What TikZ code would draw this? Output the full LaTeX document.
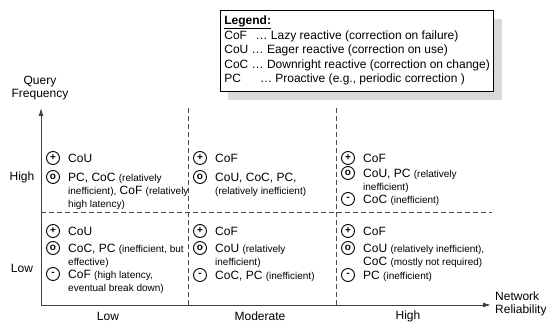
\documentclass[tikz,border=0pt]{standalone}
\usepackage{fontspec}
\setmainfont{Liberation Sans}
\usetikzlibrary{arrows.meta,shadows}
\tikzset{
  sign/.style     = {circle,draw,line width=0.9pt,inner sep=0pt,minimum size=13pt,
                     font=\fontsize{10}{10}\selectfont\bfseries},
  entry/.style    = {anchor=base west,inner sep=0pt,font=\fontsize{12}{13}\selectfont},
  lbl/.style      = {inner sep=0pt,font=\fontsize{12}{13}\selectfont},
  axisline/.style = {-{Latex[length=8pt,width=5pt]},line width=0.9pt,black!75},
  gridline/.style = {dash pattern=on 5pt off 3pt,line width=0.8pt,black!70},
  legendbox/.style= {draw,fill=white,line width=0.8pt,anchor=north west,
                     inner xsep=4pt,inner ysep=4pt,font=\fontsize{12}{14.5}\selectfont,
                     drop shadow={shadow xshift=8pt,shadow yshift=-9pt,fill=black!15,opacity=1}}
}
\newcommand{\sm}[1]{{\fontsize{10}{13}\selectfont #1}}
% #1 name, #2 position, #3 sign, #4 text
\newcommand{\rating}[4]{%
  \node[sign] (#1-s) at (#2) {#3};
  \node[entry] (#1) at ([shift={(15pt,-4.3pt)}]#1-s.center)
    {\begin{tabular}[t]{@{}l@{}}#4\end{tabular}};
}

\begin{document}
\begin{tikzpicture}[x=1pt,y=-1pt]
  \useasboundingbox (0,0) rectangle (546,323);

  % legend
  \node[legendbox] (legend) at (220,10) {\begin{tabular}{@{}l@{}}
    \underline{\textbf{Legend:}}\\
    CoF\hspace{8.6pt}… Lazy reactive (correction on failure)\\
    CoU … Eager reactive (correction on use)\\
    CoC … Downright reactive (correction on change)\\
    PC\hspace{19pt}… Proactive (e.g., periodic correction )
  \end{tabular}};

  % axes
  \coordinate (origin) at (41,305);
  \coordinate (ytip) at (41,108);
  \coordinate (xtip) at (491,305);
  \draw[axisline] (origin) -- (ytip);
  \draw[axisline] (origin) -- (xtip);
  \node[lbl,align=center] (qf) at (40,88) {Query\\Frequency};
  \node[lbl,align=left,anchor=west] (nr) at (495,304) {Network\\Reliability};

  % cell borders
  \coordinate (v1top) at (188,108);
  \coordinate (v1bot) at (188,305);
  \coordinate (v2top) at (336,108);
  \coordinate (v2bot) at (336,305);
  \coordinate (hleft) at (41,212);
  \coordinate (hright) at (492,212);
  \draw[gridline] (v1top) -- (v1bot);
  \draw[gridline] (v2top) -- (v2bot);
  \draw[gridline] (hleft) -- (hright);

  % axis values
  \node[lbl] (qhigh) at (22,177) {High};
  \node[lbl] (qlow)  at (22,268) {Low};
  \node[lbl] (rlow)  at (108,316) {Low};
  \node[lbl] (rmod)  at (260,316) {Moderate};
  \node[lbl] (rhigh) at (408,316) {High};

  % high query frequency
  \rating{hlP}{53,158}{+}{CoU}
  \rating{hlO}{53,177}{o}{PC, CoC \sm{(relatively}\\\sm{inefficient),} CoF \sm{(relatively}\\\sm{high latency)}}
  \rating{hmP}{200,158}{+}{CoF}
  \rating{hmO}{200,177}{o}{CoU, CoC, PC,\\\sm{(relatively inefficient)}}
  \rating{hhP}{348,158}{+}{CoF}
  \rating{hhO}{348,173}{o}{CoU, PC \sm{(relatively}\\\sm{inefficient)}}
  \rating{hhM}{348,199}{-}{CoC \sm{(inefficient)}}

  % low query frequency
  \rating{llP}{53,231}{+}{CoU}
  \rating{llO}{53,248}{o}{CoC, PC \sm{(inefficient, but}\\\sm{effective)}}
  \rating{llM}{53,274}{-}{CoF \sm{(high latency,}\\\sm{eventual break down)}}
  \rating{lmP}{200,231}{+}{CoF}
  \rating{lmO}{200,248}{o}{CoU \sm{(relatively}\\\sm{inefficient)}}
  \rating{lmM}{200,275}{-}{CoC, PC \sm{(inefficient)}}
  \rating{lhP}{348,231}{+}{CoF}
  \rating{lhO}{348,248}{o}{CoU \sm{(relatively inefficient),}\\CoC \sm{(mostly not required)}}
  \rating{lhM}{348,275}{-}{PC \sm{(inefficient)}}
\end{tikzpicture}
\end{document}
